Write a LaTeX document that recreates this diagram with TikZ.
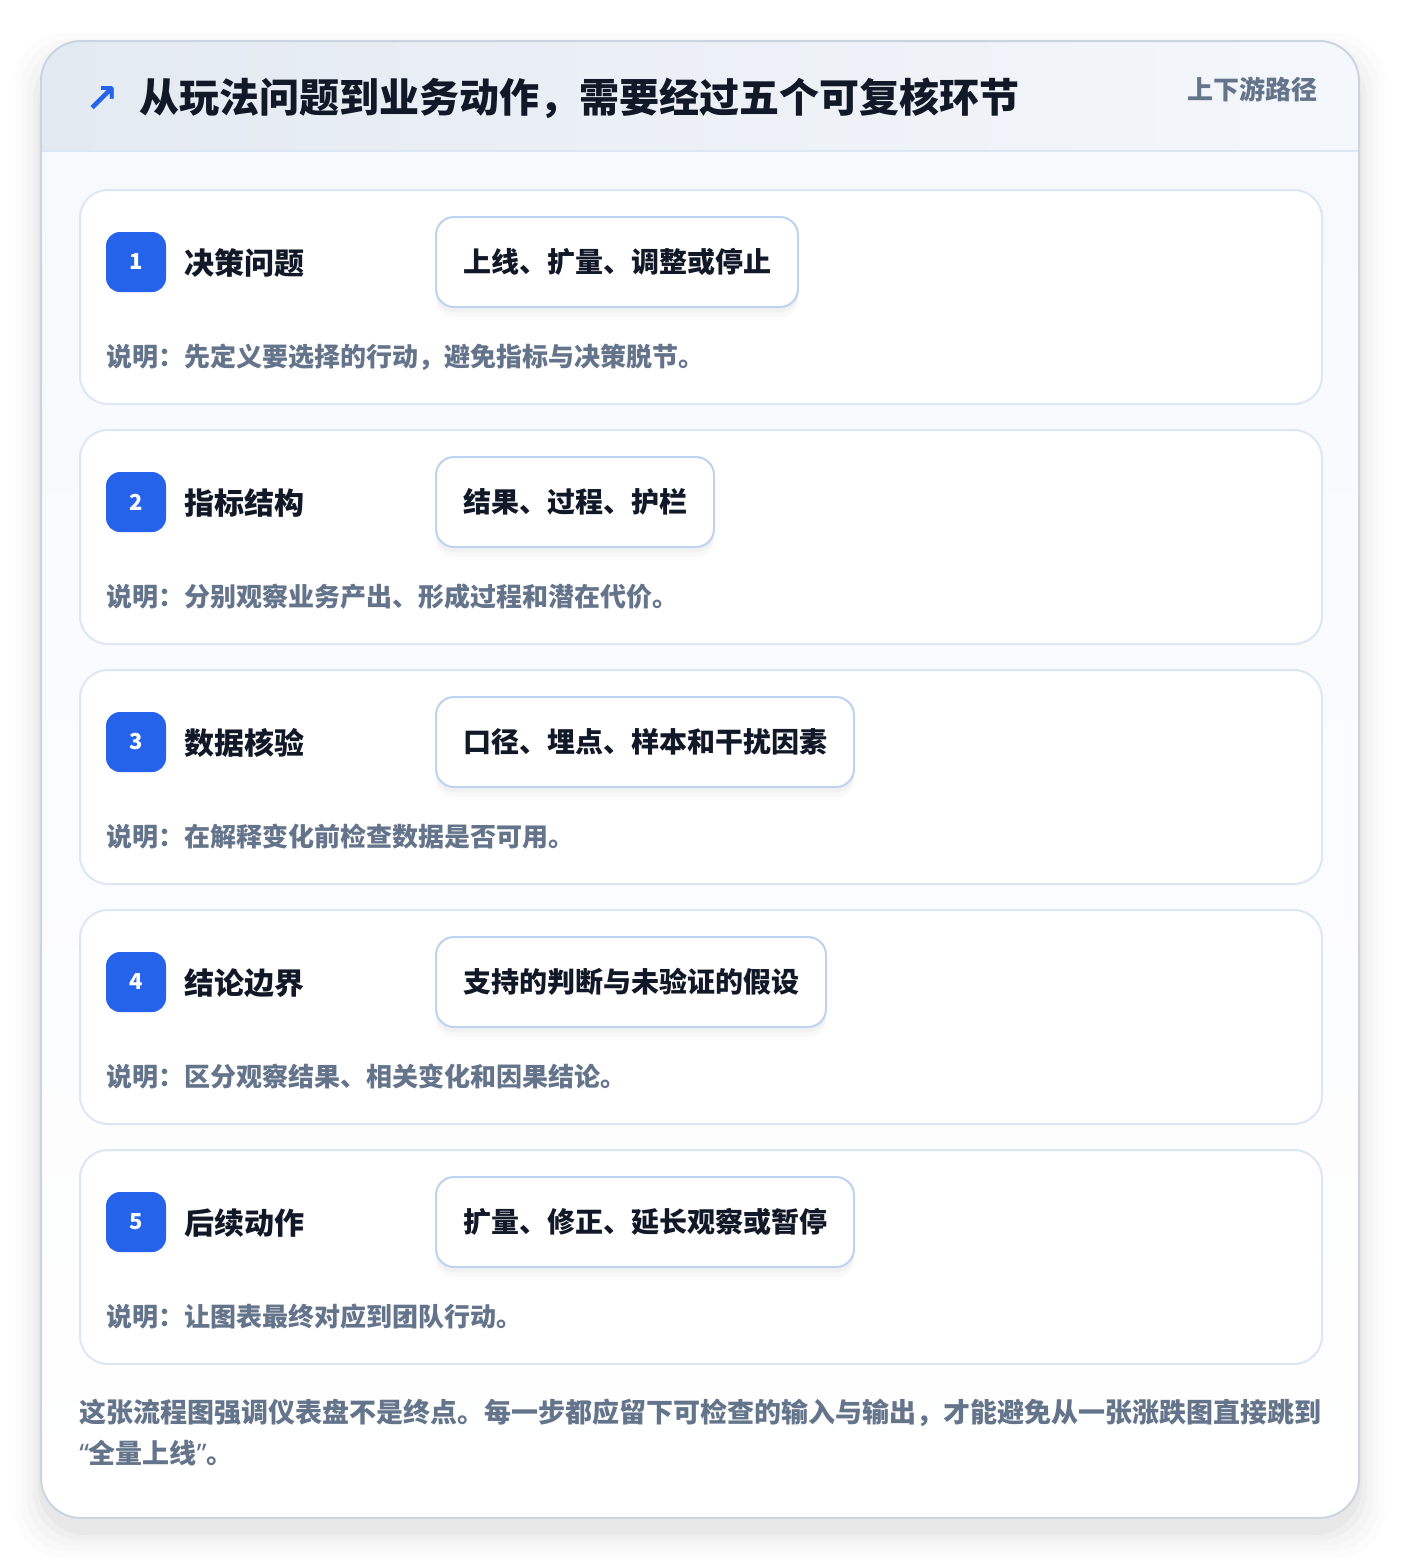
\documentclass[tikz,border=0pt]{standalone}
\usepackage{fontspec}
\setmainfont{Noto Sans CJK SC}
\newfontfamily\dejavu{DejaVu Sans}
\newfontfamily\latinq{Noto Sans}
\usetikzlibrary{calc}
\definecolor{ink}{HTML}{111827}
\definecolor{muted}{HTML}{64748B}
\definecolor{accent}{HTML}{2563EB}
\definecolor{cardline}{HTML}{DCE7F5}
\definecolor{pillline}{HTML}{BDD3F0}
\definecolor{outerline}{HTML}{CBD5E1}
\definecolor{bodyfill}{HTML}{F7F9FC}
\definecolor{headL}{HTML}{E4EAF2}
\definecolor{headR}{HTML}{F4F7FB}
\tikzset{
  stepcard/.style={draw=cardline, line width=1.5pt, fill=white, rounded corners=21pt,
    minimum width=931.5pt, minimum height=160.5pt, anchor=north west, inner sep=0pt},
  badge/.style={fill=accent, text=white, rounded corners=10.5pt, minimum size=45pt,
    inner sep=0pt, font=\fontsize{16.5}{18}\selectfont\bfseries},
  steptitle/.style={anchor=west, text=ink, inner sep=0pt, font=\fontsize{22.5}{26}\selectfont\bfseries},
  pill/.style={anchor=west, draw=pillline, line width=1.5pt, fill=white, rounded corners=13.5pt,
    minimum height=67.5pt, inner xsep=20.25pt, text=ink, font=\fontsize{21}{24}\selectfont\bfseries,
    preaction={fill=black, opacity=0.025, transform canvas={yshift=-8pt}},
    preaction={fill=black, opacity=0.03, transform canvas={yshift=-4pt}}},
  desc/.style={anchor=west, text=muted, inner sep=0pt, font=\fontsize{19.5}{22}\selectfont\bfseries},
}
\begin{document}
\begin{tikzpicture}[x=0.75pt,y=-0.75pt]
\useasboundingbox (0,0) rectangle (1400,1560);
\fill[white] (0,0) rectangle (1400,1560);
% outer card shadow
\foreach \e/\o in {26/0.01,20/0.013,14/0.017,8/0.022,3/0.028}{
  \fill[black, opacity=\o, rounded corners=36pt] ($(41,41)+(-\e,-\e+18)$) rectangle ($(1359,1518)+(\e,\e+14)$);
}
% outer card
\begin{scope}
  \clip[rounded corners=30pt] (41,41) rectangle (1359,1518);
  \shade[top color=bodyfill, bottom color=white] (41,151) rectangle (1359,1518);
  \shade[left color=headL, right color=headR] (41,41) rectangle (1359,151);
\end{scope}
\draw[cardline, line width=1.5pt] (41,151) -- (1359,151);
\draw[outerline, line width=1.5pt, rounded corners=30pt] (41,41) rectangle (1359,1518);

% header
\node[text=accent, inner sep=0pt, font=\dejavu\bfseries\fontsize{30}{32}\selectfont] (icon) at (102,99) {↗};
\node[anchor=west, text=ink, inner sep=0pt, font=\fontsize{30}{34}\selectfont\bfseries] (title) at (139,98) {从玩法问题到业务动作，需要经过五个可复核环节};
\node[anchor=east, text=muted, inner sep=0pt, font=\fontsize{19.5}{22}\selectfont\bfseries] (tag) at (1318,89) {上下游路径};

% steps
\foreach \i/\t/\p/\d in {
  1/决策问题/上线、扩量、调整或停止/说明：先定义要选择的行动，避免指标与决策脱节。,
  2/指标结构/结果、过程、护栏/说明：分别观察业务产出、形成过程和潜在代价。,
  3/数据核验/口径、埋点、样本和干扰因素/说明：在解释变化前检查数据是否可用。,
  4/结论边界/支持的判断与未验证的假设/说明：区分观察结果、相关变化和因果结论。,
  5/后续动作/扩量、修正、延长观察或暂停/说明：让图表最终对应到团队行动。}{
  \pgfmathsetmacro{\top}{189+240*(\i-1)}
  \node[stepcard] (card\i) at (79,\top) {};
  \node[badge] (badge\i) at (136,\top+73) {\i};
  \node[steptitle] (title\i) at (184,\top+74) {\t};
  \node[pill] (pill\i) at (435,\top+73) {\p};
  \node[desc] (desc\i) at (106,\top+168) {\d};
}

% footer
\node[anchor=north west, text=muted, inner sep=0pt, align=left,
  font=\fontsize{20.25}{30.75}\selectfont\bfseries] (footer) at (79,1399)
  {这张流程图强调仪表盘不是终点。每一步都应留下可检查的输入与输出，才能避免从一张涨跌图直接跳到\\{\latinq\bfseries “}全量上线{\latinq\bfseries ”}。};
\end{tikzpicture}
\end{document}
